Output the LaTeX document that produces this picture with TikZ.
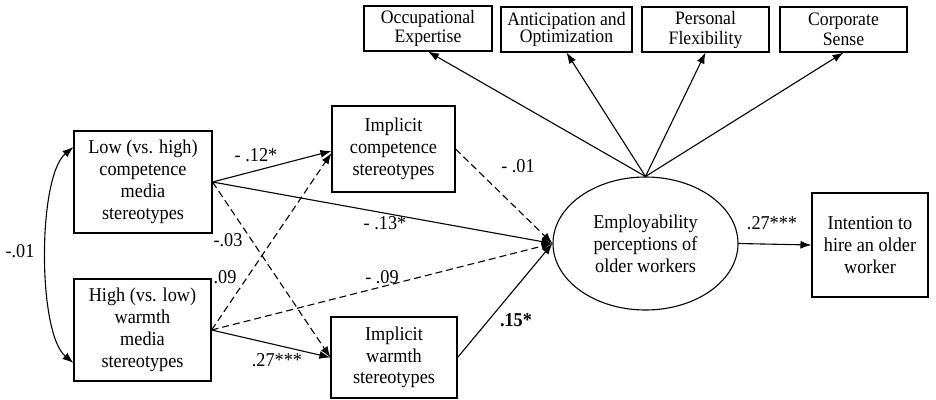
\documentclass[tikz,border=0pt]{standalone}
\usepackage{fontspec}
\setmainfont{Liberation Serif}[FakeStretch=0.93]
\usetikzlibrary{arrows.meta,shapes.geometric,calc}
\begin{document}
\begin{tikzpicture}[x=1pt,y=-1pt,
  every node/.style={font=\fontsize{19.6}{21.8}\selectfont},
  box/.style={draw,line width=1.1pt,align=center,inner sep=0pt},
  topbox/.style={box,minimum height=45pt,font=\fontsize{19}{18}\selectfont},
  lbl/.style={inner sep=0pt},
  arr/.style={line width=1.1pt,-{Latex[length=11pt,width=8pt]}},
  dsh/.style={arr,dash pattern=on 7pt off 4pt}]
\useasboundingbox (0,0) rectangle (936,399);
% nodes
\node[box,minimum width=138pt,minimum height=102pt] (low) at (143,182) {Low (vs. high)\\competence\\media\\stereotypes};
\node[box,minimum width=137pt,minimum height=102pt] (high) at (142.5,330) {High (vs. low)\\warmth\\media\\stereotypes};
\node[box,minimum width=123pt,minimum height=86pt] (ic) at (393.5,149) {Implicit\\competence\\stereotypes};
\node[box,minimum width=126pt,minimum height=81pt] (iw) at (394,357.5) {Implicit\\warmth\\stereotypes};
\node[ellipse,draw,line width=1.1pt,minimum width=185pt,minimum height=133pt,inner sep=0pt,align=center] (emp) at (645.5,243.5) {Employability\\perceptions of\\older workers};
\node[box,minimum width=116pt,minimum height=104pt] (int) at (870,245) {Intention to\\hire an older\\worker};
\node[topbox,minimum width=128pt] (occ) at (428,28.5) {\raisebox{-3pt}{\shortstack{Occupational\\[-1pt]Expertise}}};
\node[topbox,minimum width=131pt,font=\fontsize{19}{14}\selectfont] (ant) at (566.5,29.5) {Anticipation and\\Optimization};
\node[topbox,minimum width=127pt,font=\fontsize{19}{20}\selectfont] (per) at (705.5,29.5) {Personal\\Flexibility};
\node[topbox,minimum width=127pt,font=\fontsize{19}{20}\selectfont] (cor) at (843.5,29.5) {Corporate\\Sense};
% correlation
\draw[line width=1.1pt,{Latex[length=11pt,width=8pt]}-{Latex[length=11pt,width=8pt]}]
  ([yshift=35pt]low.west) .. controls +(-36,30) and +(-36,-30) .. ([yshift=-33pt]high.west);
% paths
\draw[arr] (low.east) -- ([yshift=-2pt]ic.west);
\draw[arr] (low.east) -- (emp.west);
\draw[dsh] (low.east) -- (iw.west);
\draw[dsh] (high.east) -- ([yshift=-4pt]ic.west);
\draw[dsh] (high.east) -- (emp.west);
\draw[arr] (high.east) -- (iw.west);
\draw[dsh] (ic.east) -- (emp.west);
\draw[arr] (iw.east) -- (emp.west);
\draw[arr] (emp.east) -- (int.west);
\draw[arr] (emp.north) -- (occ.south);
\draw[arr] (emp.north) -- (ant.south);
\draw[arr] (emp.north) -- (per.south);
\draw[arr] (emp.north) -- (cor.south);
% labels
\node[lbl] (l01c) at (20,251) {-.01};
\node[lbl] (l12) at (256,155) {- .12*};
\node[lbl] (l13) at (385,223) {- .13*};
\node[lbl] (l03) at (228,240) {-.03};
\node[lbl] (l09) at (225,277) {.09};
\node[lbl] (lm09) at (382,277) {- .09};
\node[lbl] (l27a) at (277,360) {.27***};
\node[lbl] (l01) at (518,166) {- .01};
\node[lbl] (l15) at (516,320) {\bfseries .15*};
\node[lbl] (l27b) at (772,223) {.27***};
\end{tikzpicture}
\end{document}
